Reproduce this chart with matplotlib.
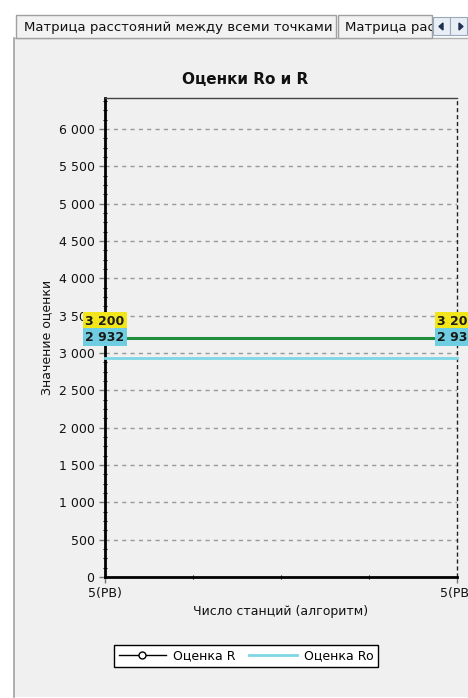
import matplotlib
matplotlib.use('Agg')
import matplotlib.pyplot as plt
from matplotlib.lines import Line2D
from matplotlib.patches import Rectangle, Polygon
from matplotlib.ticker import MultipleLocator, FuncFormatter

#                   Data

x_labels = ['5(PB)', '5(PB)']
r_values = [3200, 3200]
ro_values = [2932, 2932]

W, H = 468, 698
plt.rcParams['font.family'] = ['DejaVu Sans']

fig = plt.figure(figsize=(W / 100, H / 100), dpi=100, facecolor='white')


def fx(px):
    return px / W


def fy(py):
    return 1 - py / H


#                   Window frame and tabs

panel = Rectangle((fx(15), fy(697)), fx(453), (697 - 38) / H, transform=fig.transFigure,
                  facecolor='#f0f0f0', edgecolor='none', zorder=-10)
fig.patches.append(panel)
fig.add_artist(Line2D([fx(14), fx(14)], [fy(38), fy(697)], color='#a0a0a0', lw=1.2, zorder=-5))
fig.add_artist(Line2D([fx(14), fx(468)], [fy(38), fy(38)], color='#b0b0b0', lw=1, zorder=-5))

for x0, x1 in [(16, 336), (338, 432)]:
    fig.patches.append(Rectangle((fx(x0), fy(38)), fx(x1 - x0), 23 / H, transform=fig.transFigure,
                                 facecolor='#f2f2f2', edgecolor='#a0a0a0', lw=1, zorder=-4))
fig.text(fx(24), fy(27), 'Матрица расстояний между всеми точками', fontsize=9.5,
         va='center', ha='left', color='#111111')
clip = Rectangle((fx(338), fy(38)), fx(94), 23 / H, transform=fig.transFigure,
                 facecolor='none', edgecolor='none')
fig.patches.append(clip)
t2 = fig.text(fx(345), fy(27), 'Матрица расстояний', fontsize=9.5, va='center', ha='left',
              color='#111111')
t2.set_clip_path(clip)

for x0 in [433, 450]:
    fig.patches.append(Rectangle((fx(x0), fy(35)), fx(17), 18 / H, transform=fig.transFigure,
                                 facecolor='#e8eef6', edgecolor='#9aa8b8', lw=0.8, zorder=-4))
fig.patches.append(Polygon([(fx(443), fy(23)), (fx(443), fy(30)), (fx(439), fy(26.5))],
                           closed=True, transform=fig.transFigure, color='#203050', zorder=-3))
fig.patches.append(Polygon([(fx(459), fy(23)), (fx(459), fy(30)), (fx(463), fy(26.5))],
                           closed=True, transform=fig.transFigure, color='#203050', zorder=-3))

#                   Chart

ax = fig.add_axes([fx(105), fy(577), fx(457 - 105), (577 - 98) / H])
ax.set_facecolor('#f0f0f0')
xs = list(range(len(x_labels)))

ax.plot(xs, ro_values, color='#7fd6e6', lw=2, zorder=3, clip_on=False)
ax.plot(xs, r_values, color='#1f8f3f', lw=2.2, zorder=4, clip_on=False)

ax.set_xlim(0, 1)
ax.set_ylim(0, 6415)
ax.yaxis.set_major_locator(MultipleLocator(500))
ax.yaxis.set_minor_locator(MultipleLocator(125))
ax.yaxis.set_major_formatter(FuncFormatter(lambda v, p: f'{int(v):,}'.replace(',', ' ')))
ax.set_xticks(xs)
ax.set_xticklabels(x_labels)
ax.xaxis.set_minor_locator(MultipleLocator(0.25))
ax.tick_params(axis='both', labelsize=9, color='#777777', labelcolor='#111111',
               length=4, width=1, direction='out')
ax.tick_params(axis='both', which='minor', length=2.5, width=0.8, direction='inout')
ax.tick_params(axis='x', pad=3)
ax.grid(axis='y', which='major', linestyle=(0, (3, 3)), color='#999999', lw=1)
ax.axvline(1, color='#222222', lw=1, linestyle=(0, (3, 2)), zorder=2, clip_on=False)

ax.spines['left'].set_linewidth(2)
ax.spines['bottom'].set_linewidth(2)
ax.spines['top'].set_color('#444444')
ax.spines['top'].set_linewidth(1)
ax.spines['right'].set_visible(False)

for x in xs:
    ax.annotate(f'{r_values[x]:,}'.replace(',', ' '), (x, r_values[x]), xytext=(0, 17),
                textcoords='offset pixels', ha='center', va='center', fontsize=9,
                fontweight='bold', color='#1a1a1a', annotation_clip=False, zorder=6,
                bbox=dict(boxstyle='square,pad=0.22', fc='#f2e61a', ec='none'))
    ax.annotate(f'{ro_values[x]:,}'.replace(',', ' '), (x, ro_values[x]), xytext=(0, 21),
                textcoords='offset pixels', ha='center', va='center', fontsize=9,
                fontweight='bold', color='#1a1a1a', annotation_clip=False, zorder=6,
                bbox=dict(boxstyle='square,pad=0.22', fc='#6ecde0', ec='none'))

fig.text(fx(245), fy(80), 'Оценки Ro и R', fontsize=11, fontweight='bold',
         ha='center', va='center', color='#111111')
fig.text(fx(281), fy(612), 'Число станций (алгоритм)', fontsize=9,
         ha='center', va='center', color='#111111')
fig.text(fx(47), fy(337), 'Значение оценки', fontsize=9, rotation=90,
         ha='center', va='center', color='#111111')

handles = [Line2D([], [], color='black', lw=1, marker='o', markersize=5,
                  markerfacecolor='white', markeredgecolor='black'),
           Line2D([], [], color='#7fd6e6', lw=2)]
leg = fig.legend(handles, ['Оценка R', 'Оценка Ro'], loc='center',
                 bbox_to_anchor=(fx(246), fy(656)), ncol=2, fontsize=9, frameon=True,
                 fancybox=False, edgecolor='black', facecolor='white', framealpha=1,
                 handlelength=3.8, columnspacing=1.1, borderpad=0.35, handletextpad=0.55)
leg.get_frame().set_linewidth(1)

fig.savefig('out.png', dpi=100, facecolor='white')
